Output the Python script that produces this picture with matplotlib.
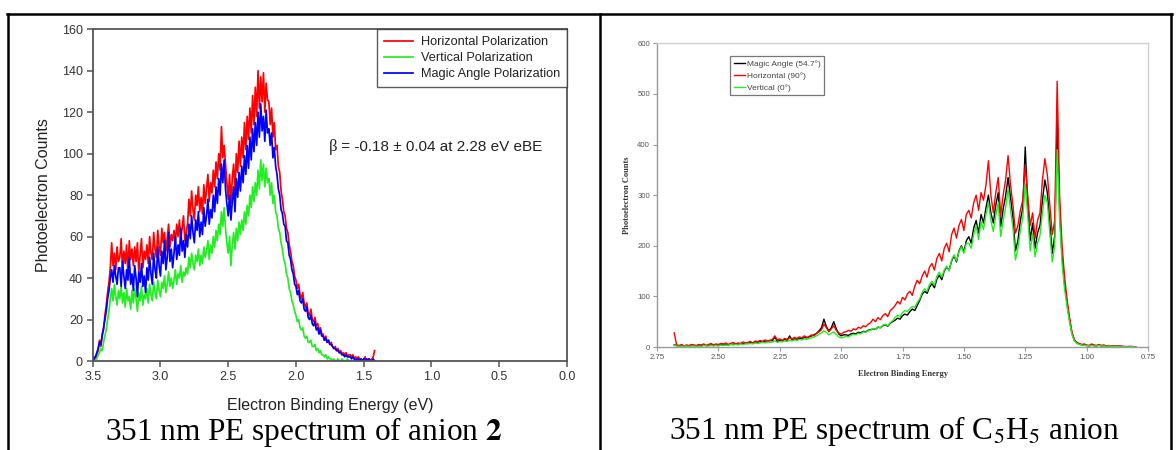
import matplotlib

matplotlib.use("Agg")

import matplotlib.pyplot as plt  # noqa: E402
import numpy as np  # noqa: E402
from matplotlib.lines import Line2D  # noqa: E402
from matplotlib.transforms import offset_copy  # noqa: E402

# ── Style ─────────────────────────────────────────────────────────────────────
W, H = 1176, 450
SANS = "Liberation Sans"
SERIF = "Liberation Serif"
FRAME = "#555555"
TICK_TXT = "#333333"

RED = "#ff0000"
GREEN = "#22ee22"
BLUE = "#0000ff"
BLACK = "#000000"

plt.rcParams.update({"font.family": SANS, "mathtext.fontset": "stix"})

# ── Data: anion 2 (eBE 3.50 -> 1.42 eV, 0.01 eV steps) ──────────────────────────
left_energy = np.round(np.arange(350, 141, -1) / 100.0, 2)
left_horizontal = [
    0, 2, 1, 3, 5, 10, 7, 13, 15, 22,
    27, 33, 38, 45, 57, 46, 52, 44, 55, 48,
    50, 59, 44, 53, 47, 56, 42, 58, 49, 54,
    46, 55, 48, 57, 43, 51, 59, 45, 53, 49,
    56, 47, 60, 52, 49, 62, 54, 50, 63, 55,
    51, 64, 57, 62, 53, 59, 66, 55, 61, 58,
    63, 57, 66, 60, 68, 59, 64, 70, 58, 62,
    66, 78, 70, 82, 73, 68, 80, 75, 84, 72,
    79, 71, 85, 76, 83, 90, 77, 86, 81, 92,
    84, 96, 88, 100, 92, 113, 98, 104, 95, 86,
    78, 90, 76, 88, 95, 82, 100, 91, 106, 94,
    108, 98, 115, 102, 118, 107, 122, 110, 128, 114,
    132, 118, 140, 122, 137, 125, 139, 120, 134, 126,
    125, 114, 122, 108, 115, 102, 104, 94, 91, 82,
    78, 72, 70, 64, 62, 56, 53, 48, 46, 41,
    39, 35, 37, 32, 30, 33, 28, 26, 28, 23,
    22, 25, 20, 19, 21, 17, 18, 15, 16, 13,
    13, 10, 12, 9, 10, 8, 9, 7, 6, 7,
    5, 6, 4, 5, 3, 4, 3, 4, 2, 3,
    3, 2, 3, 1, 2, 1, 2, 1, 1, 0,
    1, 2, 0, 1, 1, 0, 1, 2, 5,
]
left_vertical = [
    0, 0, 1, 1, 3, 4, 6, 5, 9, 12,
    15, 20, 24, 30, 35, 29, 37, 31, 27, 34,
    30, 36, 28, 33, 26, 35, 29, 31, 25, 34,
    28, 35, 30, 24, 33, 29, 36, 27, 32, 30,
    35, 28, 37, 32, 29, 38, 33, 30, 39, 34,
    31, 38, 35, 41, 33, 37, 43, 36, 40, 35,
    39, 44, 37, 42, 40, 46, 38, 43, 41, 45,
    42, 50, 45, 52, 47, 44, 51, 48, 54, 46,
    51, 47, 55, 50, 53, 58, 49, 56, 52, 60,
    55, 63, 58, 66, 61, 72, 65, 74, 64, 57,
    52, 60, 46, 56, 62, 54, 64, 58, 67, 61,
    68, 63, 72, 66, 75, 70, 80, 74, 84, 77,
    86, 80, 92, 83, 97, 87, 95, 84, 93, 86,
    88, 80, 86, 76, 80, 72, 70, 64, 62, 57,
    54, 49, 47, 42, 40, 35, 33, 29, 27, 24,
    22, 19, 20, 16, 15, 16, 12, 11, 12, 9,
    9, 10, 7, 7, 8, 5, 6, 4, 5, 3,
    3, 2, 3, 1, 2, 1, 1, 0, 1, 0,
    0, 1, 0, 0, 1, 0, 0, 0, 1, 0,
    0, 0, 0, 0, 0, 0, 0, 0, 0, 0,
    0, 0, 0, 0, 0, 0, 0, 0, 0,
]
left_magic = [
    0, 1, 2, 4, 6, 9, 8, 12, 16, 20,
    24, 30, 34, 40, 44, 38, 46, 41, 37, 45,
    45, 36, 48, 41, 35, 44, 39, 50, 37, 42,
    34, 46, 40, 31, 43, 38, 47, 36, 41, 33,
    45, 39, 50, 42, 37, 52, 44, 40, 55, 46,
    41, 53, 47, 58, 44, 50, 62, 48, 54, 45,
    52, 60, 49, 56, 51, 64, 53, 58, 50, 61,
    55, 66, 59, 70, 62, 57, 68, 63, 72, 60,
    67, 61, 74, 65, 70, 78, 66, 73, 69, 80,
    72, 84, 76, 88, 80, 95, 86, 97, 83, 76,
    70, 80, 68, 77, 84, 72, 88, 79, 91, 82,
    94, 86, 99, 90, 104, 93, 108, 97, 112, 101,
    115, 104, 120, 108, 124, 111, 118, 106, 121, 110,
    112, 104, 110, 98, 103, 94, 90, 83, 80, 73,
    71, 66, 65, 58, 57, 51, 49, 44, 42, 37,
    36, 32, 34, 29, 28, 30, 25, 24, 26, 21,
    20, 22, 18, 17, 19, 15, 16, 13, 15, 12,
    12, 10, 11, 9, 10, 8, 8, 7, 6, 6,
    5, 5, 4, 4, 3, 3, 2, 3, 2, 2,
    2, 1, 2, 1, 0, 1, 1, 0, 1, 0,
    1, 0, 1, 0, 1, 0, 0, 1, 0,
]
left_labels = ["Horizontal Polarization", "Vertical Polarization",
               "Magic Angle Polarization"]
left_xticks = [3.5, 3.0, 2.5, 2.0, 1.5, 1.0, 0.5, 0.0]
left_yticks = [0, 20, 40, 60, 80, 100, 120, 140, 160]

# ── Data: C5H5 anion (eBE 2.68 -> 0.80 eV, 0.01 eV steps) ──────────────────────
right_energy = np.round(np.arange(268, 79, -1) / 100.0, 2)
right_magic = [
    4, 3, 2, 3, 2, 3, 2, 3, 3, 2,
    3, 2, 4, 3, 3, 4, 3, 4, 3, 5,
    4, 5, 4, 6, 5, 7, 5, 7, 6, 8,
    8, 9, 7, 10, 9, 11, 10, 12, 11, 13,
    12, 20, 11, 13, 12, 15, 13, 22, 14, 16,
    15, 17, 16, 19, 18, 20, 22, 24, 27, 32,
    38, 55, 40, 32, 38, 50, 36, 26, 22, 24,
    24, 23, 26, 27, 26, 29, 28, 31, 30, 33,
    34, 36, 35, 39, 38, 42, 44, 41, 47, 50,
    53, 57, 55, 62, 65, 63, 70, 75, 72, 82,
    92, 104, 110, 106, 118, 125, 117, 134, 142, 133,
    150, 158, 152, 170, 180, 168, 190, 200, 188, 210,
    218, 205, 235, 250, 225, 262, 245, 275, 300, 265,
    245, 280, 305, 238, 272, 298, 335, 295, 255, 190,
    210, 250, 275, 395, 280, 210, 245, 195, 225, 240,
    290, 330, 305, 245, 185, 220, 450, 270, 180, 125,
    88, 55, 28, 13, 8, 6, 4, 4, 3, 2,
    4, 3, 2, 4, 2, 3, 2, 2, 1, 2,
    1, 2, 1, 1, 0, 1, 1, 0, 0,
]
right_horizontal = [
    28, 4, 3, 5, 2, 4, 3, 5, 4, 3,
    5, 4, 6, 3, 5, 7, 4, 6, 5, 7,
    6, 8, 5, 7, 9, 6, 8, 7, 10, 8,
    9, 11, 8, 12, 10, 13, 11, 14, 12, 13,
    15, 22, 14, 16, 13, 17, 15, 18, 16, 19,
    17, 20, 18, 22, 19, 21, 24, 22, 27, 30,
    34, 45, 38, 30, 36, 42, 33, 28, 25, 29,
    30, 33, 31, 36, 34, 39, 37, 42, 40, 45,
    48, 55, 50, 58, 54, 62, 66, 60, 72, 76,
    82, 90, 85, 98, 93, 105, 110, 102, 120, 132,
    125, 140, 150, 138, 158, 165, 152, 175, 185, 170,
    195, 205, 188, 222, 235, 215, 240, 252, 230, 262,
    270, 255, 285, 300, 270, 305, 290, 320, 368, 300,
    265, 305, 335, 260, 300, 330, 378, 320, 280, 225,
    240, 270, 290, 360, 300, 240, 265, 215, 250, 265,
    330, 372, 340, 280, 222, 250, 525, 300, 200, 140,
    95, 60, 30, 15, 9, 7, 5, 6, 4, 3,
    6, 4, 3, 5, 3, 4, 2, 3, 2, 2,
    2, 1, 2, 1, 1, 0, 1, 1, 0,
]
right_vertical = [
    3, 2, 1, 2, 1, 2, 1, 2, 2, 1,
    2, 1, 3, 2, 2, 3, 2, 3, 2, 4,
    3, 4, 3, 5, 4, 5, 4, 6, 5, 6,
    6, 7, 6, 8, 7, 8, 9, 8, 10, 9,
    10, 12, 9, 11, 10, 12, 11, 13, 12, 14,
    13, 15, 14, 16, 15, 17, 18, 20, 22, 25,
    28, 32, 29, 24, 27, 30, 25, 20, 18, 19,
    21, 20, 23, 25, 24, 27, 26, 30, 29, 32,
    33, 37, 35, 40, 38, 43, 45, 42, 48, 52,
    58, 63, 60, 68, 72, 70, 76, 80, 78, 88,
    95, 108, 115, 110, 124, 130, 122, 140, 148, 138,
    152, 160, 150, 172, 182, 170, 188, 198, 185, 205,
    205, 195, 222, 240, 212, 248, 232, 262, 285, 250,
    228, 260, 285, 218, 250, 275, 312, 270, 235, 172,
    195, 230, 255, 322, 260, 190, 225, 178, 205, 220,
    265, 300, 285, 225, 168, 200, 390, 250, 165, 115,
    80, 50, 25, 12, 7, 5, 4, 3, 3, 2,
    3, 2, 2, 3, 2, 2, 1, 2, 1, 1,
    1, 1, 0, 1, 0, 0, 1, 0, 0,
]
right_labels = ["Magic Angle (54.7\u00b0)", "Horizontal (90\u00b0)", "Vertical (0\u00b0)"]
right_xticks = [2.75, 2.50, 2.25, 2.00, 1.75, 1.50, 1.25, 1.00, 0.75]
right_yticks = [0, 100, 200, 300, 400, 500, 600]

for arr in (left_horizontal, left_vertical, left_magic):
    assert len(arr) == len(left_energy)
for arr in (right_magic, right_horizontal, right_vertical):
    assert len(arr) == len(right_energy)


def fx(px):
    return px / W


def fy(py):
    return 1 - py / H


fig = plt.figure(figsize=(W / 100, H / 100), dpi=100)
fig.patch.set_facecolor("white")

# ── Left panel ────────────────────────────────────────────────────────────────
ax1 = fig.add_axes([fx(92.7), fy(361), fx(567) - fx(92.7), fy(29.3) - fy(361)])
for y, col, lab in zip((left_horizontal, left_vertical, left_magic),
                       (RED, GREEN, BLUE), left_labels):
    ax1.plot(left_energy, y, color=col, lw=1.25, label=lab)
ax1.set_xlim(3.5, 0.0)
ax1.set_ylim(0, 160)
ax1.set_xticks(left_xticks)
ax1.set_xticklabels([f"{v:.1f}" for v in left_xticks])
ax1.set_yticks(left_yticks)
for sp in ax1.spines.values():
    sp.set_color(FRAME)
    sp.set_linewidth(1.3)
ax1.tick_params(direction="out", length=4, width=1.1, color=FRAME,
                labelsize=9, labelcolor=TICK_TXT, pad=3)
ax1.set_xlabel("Electron Binding Energy (eV)", fontsize=11.5, color="#222222")
ax1.set_ylabel("Photoelectron Counts", fontsize=11.5, color="#222222")
ax1.xaxis.set_label_coords(0.5, -0.112)
ax1.yaxis.set_label_coords(-0.088, 0.5)
leg1 = ax1.legend(loc="upper right", bbox_to_anchor=(1, 1), borderaxespad=0,
                  fontsize=9.2, frameon=True, fancybox=False, handlelength=2.3,
                  handletextpad=0.6, labelspacing=0.3, borderpad=0.55)
leg1.get_frame().set_edgecolor("#333333")
leg1.get_frame().set_linewidth(1.0)
for t in leg1.get_texts():
    t.set_color("#222222")

# beta in a serif face (as in the original), the rest in sans
beta = ax1.text(0.498, 101.3, "\u03b2", transform=ax1.get_yaxis_transform(),
                family=SERIF, fontsize=12, color="#222222",
                ha="left", va="baseline")
fig.canvas.draw()
bw = beta.get_window_extent().width * 72 / fig.dpi
ax1.text(0.498, 101.3, " = -0.18 \u00b1 0.04 at 2.28 eV eBE",
         transform=offset_copy(ax1.get_yaxis_transform(), fig=fig, x=bw,
                               units="points"),
         fontsize=11, color="#222222", ha="left", va="baseline")

# ── Right panel ───────────────────────────────────────────────────────────────
ax2 = fig.add_axes([fx(657), fy(347), fx(1148) - fx(657), fy(43.3) - fy(347)])
for y, col, lab in zip((right_magic, right_horizontal, right_vertical),
                       (BLACK, RED, GREEN), right_labels):
    ax2.plot(right_energy, y, color=col, lw=1.0, label=lab)
ax2.set_xlim(2.75, 0.75)
ax2.set_ylim(0, 600)
ax2.set_xticks(right_xticks)
ax2.set_xticklabels([f"{v:.2f}" for v in right_xticks])
ax2.set_yticks(right_yticks)
ax2.spines["left"].set_color("#999999")
ax2.spines["bottom"].set_color("#999999")
ax2.spines["top"].set_color("#d0d0d0")
ax2.spines["right"].set_color("#d0d0d0")
for sp in ax2.spines.values():
    sp.set_linewidth(1.0)
ax2.tick_params(direction="out", length=3, width=0.8, color="#999999",
                labelsize=5.6, labelcolor="#555555", pad=2)
ax2.set_xlabel("Electron Binding Energy", fontsize=6, fontweight="bold",
               family=SERIF, color="#333333")
ax2.set_ylabel("Photoelectron Counts", fontsize=6, fontweight="bold",
               family=SERIF, color="#333333")
ax2.xaxis.set_label_coords(0.5, -0.076)
ax2.yaxis.set_label_coords(-0.053, 0.5)
leg2 = ax2.legend(loc="upper left", bbox_to_anchor=(0.1487, 0.958),
                  borderaxespad=0, fontsize=6, frameon=True, fancybox=False,
                  handlelength=1.3, handletextpad=0.25, labelspacing=0.5,
                  borderpad=0.45)
leg2.get_frame().set_edgecolor("#555555")
leg2.get_frame().set_linewidth(0.9)
for t in leg2.get_texts():
    t.set_color("#444444")

# ── Table border + captions ───────────────────────────────────────────────────
for (x0, y0, x1, y1) in [(7, 14, 1172, 14), (8, 14, 8, 450),
                         (600, 14, 600, 450), (1171, 14, 1171, 450)]:
    fig.add_artist(Line2D([fx(x0), fx(x1)], [fy(y0), fy(y1)],
                          transform=fig.transFigure, color="black", lw=1.8))

fig.text(fx(304), fy(432), r"351 nm PE spectrum of anion $\mathbf{2}$",
         family=SERIF, fontsize=22.5, ha="center", va="center")
fig.text(fx(894), fy(431), r"351 nm PE spectrum of C$_5$H$_5$ anion",
         family=SERIF, fontsize=22.5, ha="center", va="center")

fig.savefig("out.png", dpi=100)
